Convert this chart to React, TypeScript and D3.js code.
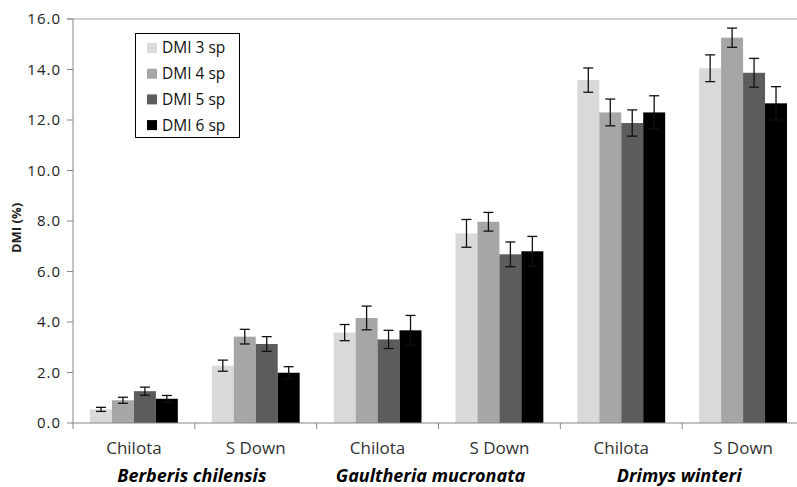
import React from "react";
import * as d3 from "d3";

const categories = ["Chilota", "S Down", "Chilota", "S Down", "Chilota", "S Down"];
const species = ["Berberis chilensis", "Gaultheria mucronata", "Drimys winteri"];
const series = ["DMI 3 sp", "DMI 4 sp", "DMI 5 sp", "DMI 6 sp"];
const colors = ["#d9d9d9", "#a6a6a6", "#5c5c5c", "#000000"];

// one array per series, one value per category
const dmi3 = [0.54, 2.27, 3.58, 7.51, 13.58, 14.05];
const dmi4 = [0.9, 3.42, 4.16, 7.97, 12.3, 15.26];
const dmi5 = [1.26, 3.13, 3.31, 6.68, 11.88, 13.87];
const dmi6 = [0.96, 1.99, 3.67, 6.8, 12.3, 12.66];

// error bar half-heights
const err3 = [0.08, 0.22, 0.32, 0.55, 0.48, 0.53];
const err4 = [0.12, 0.29, 0.47, 0.37, 0.53, 0.38];
const err5 = [0.16, 0.29, 0.36, 0.49, 0.52, 0.57];
const err6 = [0.13, 0.24, 0.59, 0.59, 0.66, 0.66];

const yTicks = [0, 2, 4, 6, 8, 10, 12, 14, 16];

const W = 797;
const H = 487;
const left = 73;
const right = 804;
const top = 19;
const bottom = 423;

export default function App() {
  const values = [dmi3, dmi4, dmi5, dmi6];
  const errs = [err3, err4, err5, err6];
  const idx = categories.map((_, i) => i);

  const x0 = d3.scaleBand<number>().domain(idx).range([left, right]).padding(0);
  const x1 = d3
    .scaleBand<number>()
    .domain(series.map((_, i) => i))
    .range([17, x0.bandwidth() - 17])
    .padding(0);
  const y = d3.scaleLinear().domain([0, 16]).range([bottom, top]);

  const font = "'Open Sans', sans-serif";

  return (
    <svg
      width={W}
      height={H}
      style={{ position: "absolute", left: 0, top: 0, background: "#fff" }}
      fontFamily={font}
    >
      {/* top gridline */}
      <line x1={left - 6} x2={W} y1={y(16)} y2={y(16)} stroke="#a0a0a0" />
      {/* y axis */}
      <line x1={left} x2={left} y1={top} y2={bottom} stroke="#868686" />
      {yTicks.map((t) => (
        <g key={t}>
          <line x1={left - 6} x2={left} y1={y(t)} y2={y(t)} stroke="#868686" />
          <text
            x={61}
            y={y(t)}
            dy="0.35em"
            textAnchor="end"
            fontSize={15}
            fill="#222"
            letterSpacing={1}
          >
            {t.toFixed(1)}
          </text>
        </g>
      ))}
      <text
        transform={`translate(21,${(top + bottom) / 2 + 7}) rotate(-90)`}
        textAnchor="middle"
        fontSize={13}
        fontWeight="bold"
        fill="#222"
      >
        DMI (%)
      </text>

      {/* bars */}
      {idx.map((c) => (
        <g key={c} transform={`translate(${x0(c)},0)`}>
          {series.map((_, s) => (
            <rect
              key={s}
              x={x1(s)}
              y={y(values[s][c])}
              width={x1.bandwidth()}
              height={y(0) - y(values[s][c])}
              fill={colors[s]}
            />
          ))}
          {series.map((_, s) => {
            const cx = (x1(s) as number) + x1.bandwidth() / 2;
            const v = values[s][c];
            const e = errs[s][c];
            return (
              <g key={"e" + s} stroke="#111" strokeWidth={1.3}>
                <line x1={cx} x2={cx} y1={y(v + e)} y2={y(v - e)} />
                <line x1={cx - 5} x2={cx + 5} y1={y(v + e)} y2={y(v + e)} />
                <line x1={cx - 5} x2={cx + 5} y1={y(v - e)} y2={y(v - e)} />
              </g>
            );
          })}
        </g>
      ))}

      {/* x axis */}
      <line x1={left} x2={W} y1={bottom} y2={bottom} stroke="#868686" />
      {idx.map((c) => (
        <line
          key={"t" + c}
          x1={x0(c)}
          x2={x0(c)}
          y1={bottom}
          y2={bottom + 6}
          stroke="#868686"
        />
      ))}
      {idx.map((c) => (
        <text
          key={"c" + c}
          x={(x0(c) as number) + x0.bandwidth() / 2}
          y={448}
          dy="0.35em"
          textAnchor="middle"
          fontSize={17}
          fill="#333"
        >
          {categories[c]}
        </text>
      ))}
      {species.map((sp, i) => (
        <text
          key={sp}
          x={(x0(i * 2) as number) + x0.bandwidth() - (i === 1 ? 8 : 3)}
          y={482}
          textAnchor="middle"
          fontSize={18}
          fontWeight="bold"
          fontStyle="italic"
          fill="#000"
        >
          {sp}
        </text>
      ))}

      {/* legend */}
      <rect x={135.5} y={33.5} width={104} height={104} fill="#fff" stroke="#000" />
      {series.map((s, i) => (
        <g key={s} transform={`translate(147,${48 + i * 25.7})`}>
          <rect x={0} y={-5} width={10} height={10} fill={colors[i]} />
          <text x={15} dy="0.35em" fontSize={15.5} fill="#111">
            {s}
          </text>
        </g>
      ))}
    </svg>
  );
}
